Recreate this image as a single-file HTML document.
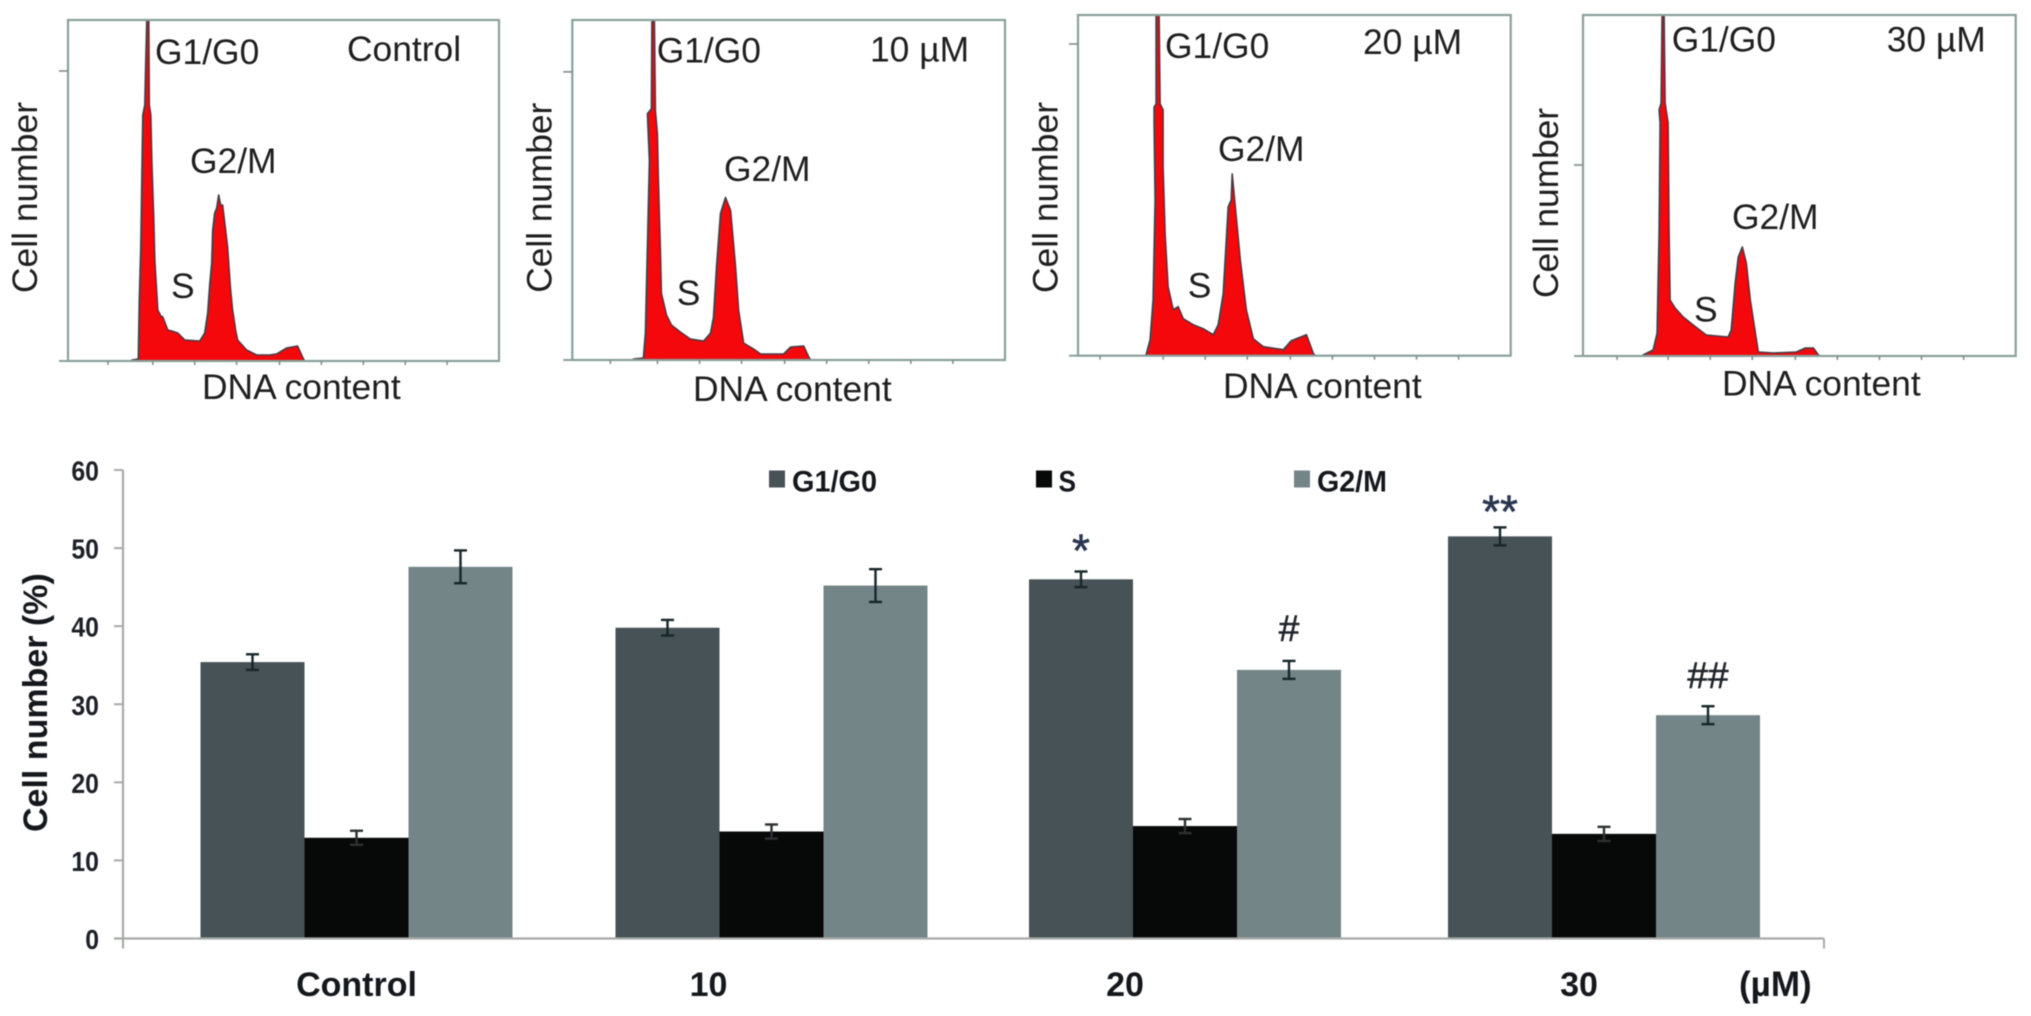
<!DOCTYPE html>
<html lang="en">
<head>
<meta charset="utf-8">
<title>Cell cycle distribution</title>
<style>
html,body{margin:0;padding:0;background:#fff;width:2031px;height:1016px;overflow:hidden}
svg{display:block;filter:blur(.55px)}
text{font-family:"Liberation Sans",sans-serif}
.p{font-size:35.4px;fill:#1e1e1e}
.b{font-weight:700;fill:#14181c}
</style>
</head>
<body>
<svg id="fig" xmlns="http://www.w3.org/2000/svg" width="2031" height="1016" viewBox="0 0 2031 1016">
  <rect x="0" y="0" width="2031" height="1016" fill="#fff"/>
  <g id="histograms"></g>

  <g>
    <text class="p" x="155" y="64">G1/G0</text>
    <text class="p" x="347" y="61">Control</text>
    <text class="p" x="190" y="173">G2/M</text>
    <text class="p" x="171" y="298">S</text>
    <text class="p" transform="translate(37,293) rotate(-90)" textLength="191" lengthAdjust="spacing">Cell number</text>
    <text class="p" x="202" y="399">DNA content</text>
  </g>
  <g>
    <text class="p" x="656.7" y="62.7">G1/G0</text>
    <text class="p" x="870" y="61.7">10 µM</text>
    <text class="p" x="724" y="181">G2/M</text>
    <text class="p" x="676.7" y="305">S</text>
    <text class="p" transform="translate(551.7,292.7) rotate(-90)" textLength="190" lengthAdjust="spacing">Cell number</text>
    <text class="p" x="693" y="401">DNA content</text>
  </g>
  <g>
    <text class="p" x="1165" y="58">G1/G0</text>
    <text class="p" x="1363" y="54">20 µM</text>
    <text class="p" x="1218" y="161">G2/M</text>
    <text class="p" x="1187.7" y="297.7">S</text>
    <text class="p" transform="translate(1057.7,293) rotate(-90)" textLength="191" lengthAdjust="spacing">Cell number</text>
    <text class="p" x="1223" y="398">DNA content</text>
  </g>
  <g>
    <text class="p" x="1671.7" y="51.7">G1/G0</text>
    <text class="p" x="1886.7" y="51.7">30 µM</text>
    <text class="p" x="1732" y="229">G2/M</text>
    <text class="p" x="1694" y="321.7">S</text>
    <text class="p" transform="translate(1558,298) rotate(-90)" textLength="190" lengthAdjust="spacing">Cell number</text>
    <text class="p" x="1722" y="395.7">DNA content</text>
  </g>

  <g id="barchart"></g>

  <text class="b" font-size="34" transform="translate(47,832) rotate(-90)">Cell number (%)</text>
  <text class="b" font-size="35" x="1739" y="996">(µM)</text>

  <g>
    <g>
      <rect x="769" y="470.5" width="16" height="17" fill="#475256"/>
      <text class="b" font-size="30" x="792" y="491.5" textLength="85" lengthAdjust="spacingAndGlyphs">G1/G0</text>
    </g>
    <g>
      <rect x="1036" y="470.5" width="16" height="17" fill="#070909"/>
      <text class="b" font-size="30" x="1058.5" y="491.5" textLength="17.5" lengthAdjust="spacingAndGlyphs">S</text>
    </g>
    <g>
      <rect x="1294" y="470.5" width="16" height="17" fill="#748587"/>
      <text class="b" font-size="30" x="1317" y="491.5" textLength="70" lengthAdjust="spacingAndGlyphs">G2/M</text>
    </g>
  </g>
</svg>

<script>
/* ---------- bar chart data ---------- */
const categories = ["Control", "10", "20", "30"];
const seriesNames = ["G1/G0", "S", "G2/M"];
const g1g0Values = [35.4, 39.8, 46.0, 51.5];
const sValues = [12.9, 13.7, 14.4, 13.4];
const g2mValues = [47.6, 45.2, 34.4, 28.6];
const g1g0Errors = [1.0, 1.0, 1.0, 1.15];
const sErrors = [0.9, 0.9, 0.9, 0.9];
const g2mErrors = [2.1, 2.1, 1.15, 1.15];
const g1g0Significance = ["", "", "*", "**"];
const g2mSignificance = ["", "", "#", "##"];
const yTicks = [0, 10, 20, 30, 40, 50, 60];

/* ---------- flow histogram data (channel / event count) ---------- */
const histogramNames = ["control", "10-um", "20-um", "30-um"];
const controlChannels = [64,70.5,71.5,73,74,75,77,78,79,81,81.5,83,84,86,87,90,93,95,100,104,110,117,132,137,140,142,144,145,147,149,151,153,155,158,160,163,165,168,170,179,189,202,209,219,230,235,237];
const controlCounts = [1,2,61,114,181,246,256,301,341,341,256,246,201,141,101,51,45,44,31,30,28,21,20,28,48,76,98,131,148,153,166,156,156,131,114,71,51,31,21,11,6,6,7,13,15,4,0];
const um10Channels = [61,71,73,75,77,75,79,79.5,82,83,85,86,88,89,94,99,108,118,131,138,141,144,148,153,158,163,166,171,181,188,211,218,231,236,238];
const um10Counts = [1,2,27,113,200,247,252,340,340,250,227,180,110,67,45,35,28,21,19,27,43,93,147,163,150,93,50,17,11,6,6,13,14,3,0];
const um20Channels = [68,72,75,77,76,76,78,78,81,82,85,85,87,90,95,100,105,115,125,135,140,145,150,153,154,157,162,168,175,185,205,213,228,235,237];
const um20Counts = [1,16,56,156,232,249,252,341,341,252,246,189,122,69,46,49,37,31,27,21,31,62,149,156,182,149,96,46,17,9,6,15,21,2,0];
const um30Channels = [60,70,74,76,77,76,78,79,81,82,85,86,87,92,100,110,123,145,148,152,155,159,163,167,175,190,213,222,230,235,237];
const um30Counts = [1,6,23,123,233,246,253,341,341,253,233,123,56,48,39,31,21,19,26,73,99,109,93,56,4,3,4,8,8,1,0];
const xTickChannels = [85,127,169,212,254,296,338,380];
const firstTickChannels = [40,38,22,34];
const yTickCounts = [290,289,312,191];

/* ---------- layout (not data) ---------- */
const SVGNS = "http://www.w3.org/2000/svg";
const panelFrames = [
  {l:68, t:20, r:499, b:361},
  {l:572.3, t:20, r:1005, b:360},
  {l:1078, t:15, r:1510.7, b:355.7},
  {l:1583, t:15, r:2015.7, b:356}
];
const plot = {axisX:123, axisRight:1824, y0:938.5, y60:470, groupStart:200.5, groupStep:415.5, barW:104};
const seriesColors = ["#475256", "#070909", "#748587"];
const categoryLabelDx = [0, -63, -60, -25];
const groupNudge = [0, -0.5, -2.5, 1];
const markerOffset = {"*":-5, "**":0, "#":-20, "##":-18};

function mk(tag, parent, attrs, txt){
  const el = document.createElementNS(SVGNS, tag);
  for (const k in attrs) el.setAttribute(k, attrs[k]);
  if (txt !== undefined) el.textContent = txt;
  parent.appendChild(el);
  return el;
}

/* ---------- histograms ---------- */
const histRoot = document.getElementById("histograms");
const allChannels = [controlChannels, um10Channels, um20Channels, um30Channels];
const allCounts = [controlCounts, um10Counts, um20Counts, um30Counts];

panelFrames.forEach(function(f, p){
  const xCh = function(c){ return f.l + c * (f.r - f.l) / 432; };
  const yCt = function(c){ return f.b - c * (f.b - f.t) / 341; };
  const g = mk("g", histRoot, {});
  
  

  let d = "M" + xCh(allChannels[p][0]).toFixed(1) + " " + yCt(0).toFixed(1);
  allChannels[p].forEach(function(c, i){
    d += " L" + xCh(c).toFixed(1) + " " + yCt(allCounts[p][i]).toFixed(1);
  });
  d += " Z";
  const area = mk("path", g, {d:d, fill:"#f4080c", stroke:"#4a3a44", "stroke-width":"1.6", "stroke-linejoin":"round"});
  
  

  const frame = mk("rect", g, {x:f.l, y:f.t, width:f.r-f.l, height:f.b-f.t, fill:"none", stroke:"#88a09b", "stroke-width":"2.2"});
  
  

  const baseTick = mk("line", g, {x1:f.l-9, x2:f.l, y1:f.b, y2:f.b, stroke:"#88a09b", "stroke-width":"2"});
  
  

  const yTick = mk("line", g, {x1:f.l-9, x2:f.l, y1:yCt(yTickCounts[p]), y2:yCt(yTickCounts[p]), stroke:"#7d8c8a", "stroke-width":"1.6"});
  
  

  [firstTickChannels[p]].concat(xTickChannels).forEach(function(c){
    const t = mk("line", g, {x1:xCh(c), x2:xCh(c), y1:f.b, y2:f.b+4, stroke:"#7d8c8a", "stroke-width":"1.5"});
    
    
  });
});

/* ---------- bar chart ---------- */
const chart = document.getElementById("barchart");
const yScale = function(v){ return plot.y0 - v * (plot.y0 - plot.y60) / 60; };
const xScale = function(cat, ser){ return plot.groupStart + cat * plot.groupStep + groupNudge[cat] + ser * plot.barW; };

const allValues = [g1g0Values, sValues, g2mValues];
const allErrors = [g1g0Errors, sErrors, g2mErrors];
const allSignificance = [g1g0Significance, null, g2mSignificance];

const yAxisLine = mk("line", chart, {x1:plot.axisX, x2:plot.axisX, y1:yScale(60), y2:plot.y0+10, stroke:"#a8aaa8", "stroke-width":"2.2"});



yTicks.forEach(function(v){
  const t = mk("line", chart, {x1:plot.axisX-9, x2:plot.axisX, y1:yScale(v), y2:yScale(v), stroke:"#a8aaa8", "stroke-width":"2"});
  
  
  const s = String(v);
  const lbl = mk("text", chart, {x:99, y:yScale(v)+10.5, "text-anchor":"end", "font-size":"28", "font-weight":"700", fill:"#1c2026", textLength:s.length*13.8, lengthAdjust:"spacingAndGlyphs"}, s);
  
  
});

categories.forEach(function(cat, c){
  allValues.forEach(function(vals, s){
    const x = xScale(c, s);
    const bar = mk("rect", chart, {x:x, y:yScale(vals[c]), width:plot.barW, height:plot.y0 - yScale(vals[c]), fill:seriesColors[s]});
    
    
  });
});

const xAxisLine = mk("line", chart, {x1:plot.axisX-9, x2:plot.axisRight, y1:plot.y0, y2:plot.y0, stroke:"#a8aaa8", "stroke-width":"2.2"});



const xAxisEnd = mk("line", chart, {x1:plot.axisRight, x2:plot.axisRight, y1:plot.y0, y2:plot.y0+10, stroke:"#a8aaa8", "stroke-width":"2"});



categories.forEach(function(cat, c){
  allValues.forEach(function(vals, s){
    const cx = xScale(c, s) + plot.barW / 2;
    const top = yScale(vals[c] + allErrors[s][c]);
    const bot = yScale(vals[c] - allErrors[s][c]);
    const eg = mk("g", chart, {stroke:s === 1 ? "#2c3133" : "#16262a", "stroke-width":"2.4"});
    
    
    mk("line", eg, {x1:cx, x2:cx, y1:top, y2:bot});
    mk("line", eg, {x1:cx-6.5, x2:cx+6.5, y1:top, y2:top});
    mk("line", eg, {x1:cx-6.5, x2:cx+6.5, y1:bot, y2:bot});

    const sig = allSignificance[s] ? allSignificance[s][c] : "";
    if (sig) {
      const star = sig.charAt(0) === "*";
      const m = mk("text", chart, {x:cx, y:top + markerOffset[sig], "text-anchor":"middle", "font-size":star ? "46" : "37", fill:star ? "#2a3550" : "#20252b", stroke:star ? "#2a3550" : "#20252b", "stroke-width":"0.6"}, sig);
      
      
    }
  });
  const lbl = mk("text", chart, {x:xScale(c, 1) + plot.barW / 2 + categoryLabelDx[c], y:996, "text-anchor":"middle", "font-size":"34", "font-weight":"700", fill:"#14181c"}, cat);
  
  
});
</script>
</body>
</html>
